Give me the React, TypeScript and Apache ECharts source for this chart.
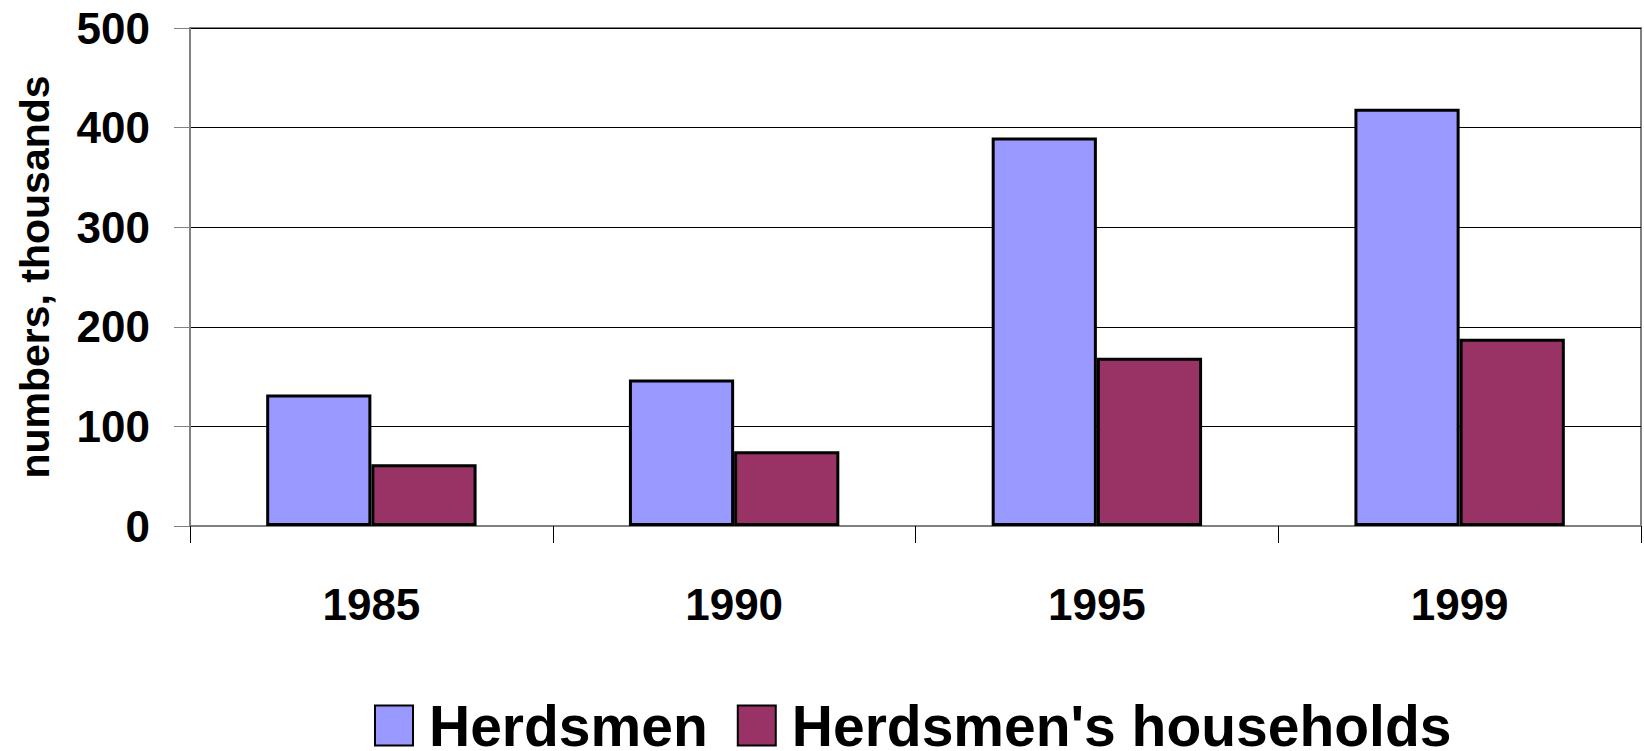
import React, { useEffect, useRef } from "react";
import * as echarts from "echarts";

const years = ["1985", "1990", "1995", "1999"];
const herdsmen = [132, 147, 390, 419];
const households = [62, 75, 169, 188];
const seriesNames = ["Herdsmen", "Herdsmen's households"];
const yAxisName = "numbers, thousands";

const FONT = "'Liberation Sans', Arial, sans-serif";

export default function App() {
  const ref = useRef<HTMLDivElement>(null);
  useEffect(() => {
    if (!ref.current) return;
    const chart = echarts.init(ref.current, null, { renderer: "svg" });
    chart.setOption({
      animation: false,
      backgroundColor: "#ffffff",
      textStyle: { fontFamily: FONT },
      grid: {
        left: 190,
        right: 3,
        top: 28,
        bottom: 225,
        show: true,
        borderColor: "#808080",
        borderWidth: 2,
      },
      legend: {
        left: 369,
        top: 692,
        itemWidth: 38,
        itemHeight: 40,
        itemGap: 29,
        icon: "rect",
        data: seriesNames,
        textStyle: {
          fontFamily: FONT,
          fontSize: 57,
          fontWeight: "bold",
          color: "#000",
          lineHeight: 56,
          padding: [0, 0, 0, 11],
        },
      },
      xAxis: {
        type: "category",
        data: years,
        boundaryGap: true,
        axisLine: { lineStyle: { color: "#808080", width: 2 } },
        axisTick: { show: true, length: 17, lineStyle: { color: "#000", width: 1 } },
        axisLabel: {
          fontFamily: FONT,
          fontSize: 44,
          fontWeight: "bold",
          color: "#000",
          lineHeight: 44,
          margin: 56,
        },
      },
      yAxis: {
        type: "value",
        min: 0,
        max: 500,
        interval: 100,
        name: yAxisName,
        nameLocation: "middle",
        nameGap: 135,
        nameRotate: 90,
        nameTextStyle: {
          fontFamily: FONT,
          fontSize: 41,
          fontWeight: "bold",
          color: "#000",
        },
        axisLine: { show: true, lineStyle: { color: "#808080", width: 2 } },
        axisTick: { show: true, length: 16, lineStyle: { color: "#808080", width: 1 } },
        axisLabel: {
          fontFamily: FONT,
          fontSize: 44,
          fontWeight: "bold",
          color: "#000",
          margin: 40,
        },
        splitLine: { show: true, lineStyle: { color: "#000", width: 1 } },
      },
      series: [
        {
          name: seriesNames[0],
          type: "bar",
          data: herdsmen,
          barGap: "0%",
          barCategoryGap: "42%",
          itemStyle: { color: "#9999FF", borderColor: "#000", borderWidth: 3 },
        },
        {
          name: seriesNames[1],
          type: "bar",
          data: households,
          barGap: "0%",
          barCategoryGap: "42%",
          itemStyle: { color: "#993366", borderColor: "#000", borderWidth: 3 },
        },
      ],
    });
    return () => chart.dispose();
  }, []);
  return (
    <div
      ref={ref}
      style={{ position: "fixed", left: 0, top: 0, width: 1644, height: 751 }}
    />
  );
}
